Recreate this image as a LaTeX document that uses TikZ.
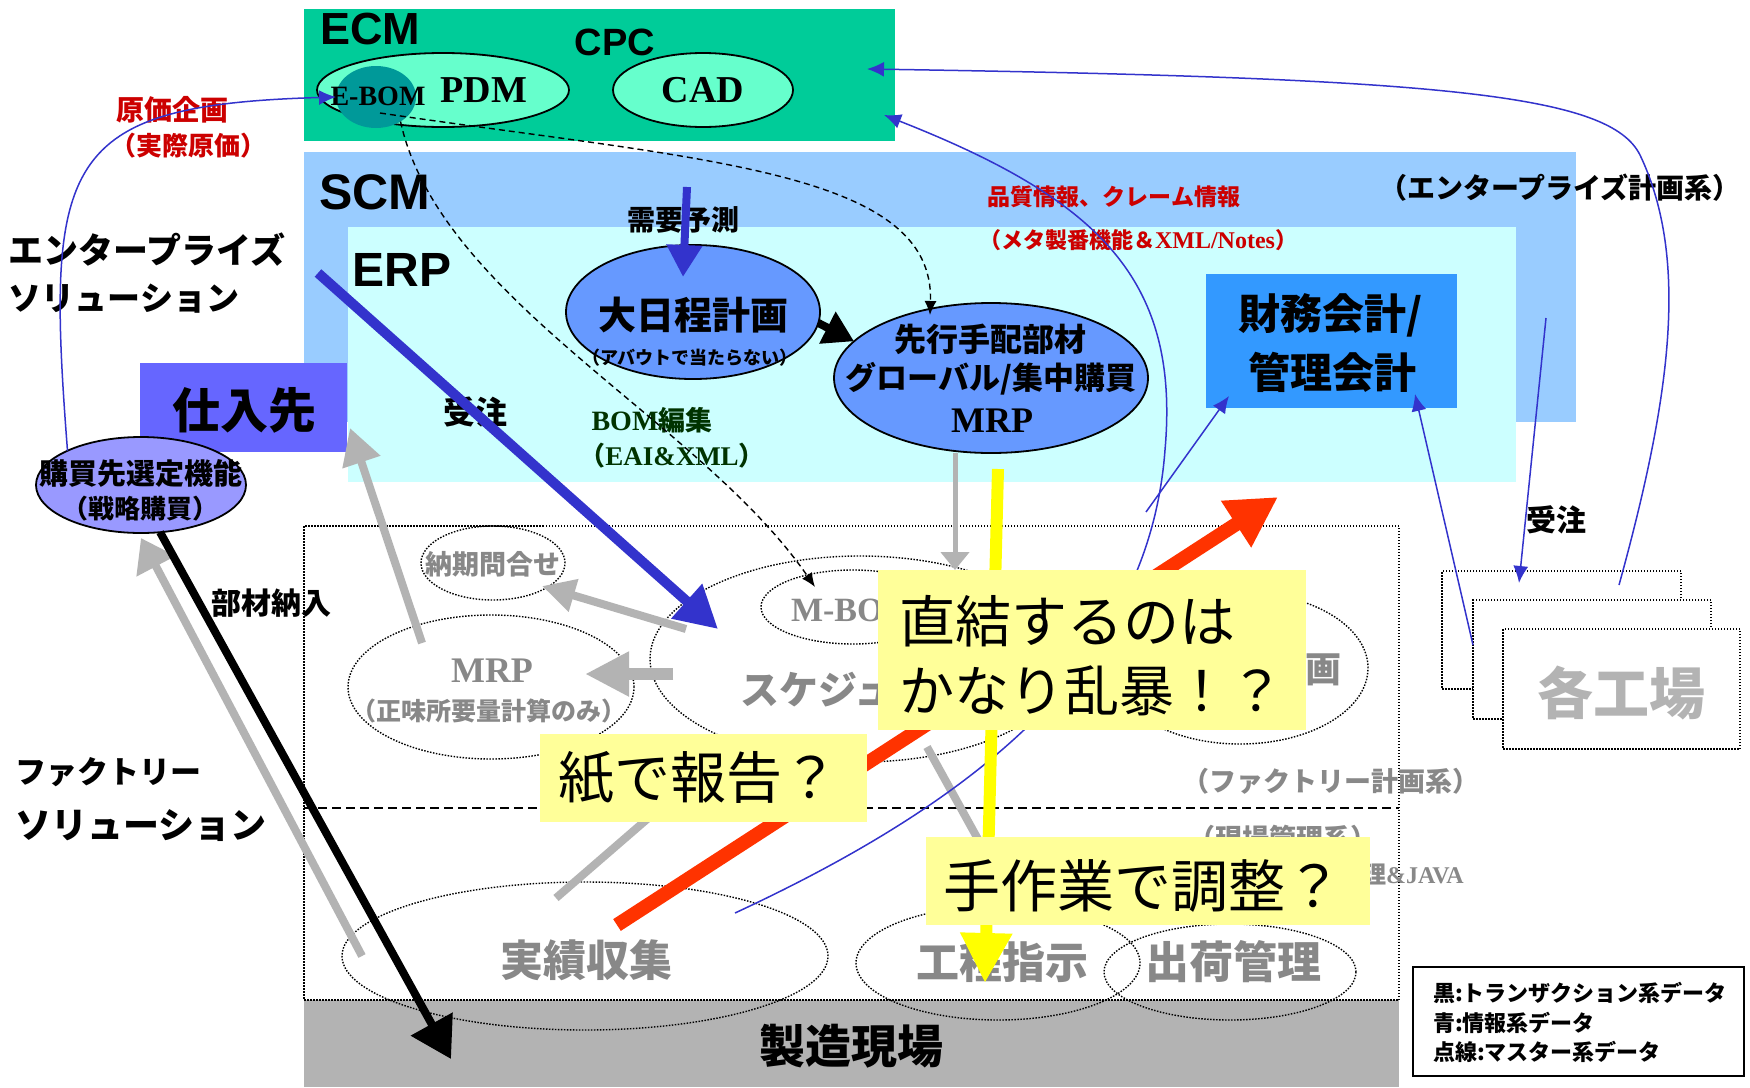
\documentclass[tikz,border=0pt]{standalone}
\usepackage{fontspec}
\setmainfont{Liberation Serif}
\newfontfamily\jp{Noto Sans CJK JP}
\newfontfamily\arl{Liberation Sans}
\newfontfamily\tms{Liberation Serif}
\usetikzlibrary{shapes.geometric,arrows.meta}
\newcommand\fsz[1]{\fontsize{#1}{#1}\selectfont}
\definecolor{ecmg}{HTML}{00CC99}
\definecolor{pdmg}{HTML}{66FFCC}
\definecolor{ebomc}{HTML}{009999}
\definecolor{scmc}{HTML}{99CCFF}
\definecolor{erpc}{HTML}{CCFFFF}
\definecolor{planc}{HTML}{6699FF}
\definecolor{zaic}{HTML}{3399FF}
\definecolor{shiic}{HTML}{6666FF}
\definecolor{kobc}{HTML}{9999FF}
\definecolor{yelc}{HTML}{FFFF99}
\definecolor{redt}{HTML}{CC0000}
\definecolor{bluea}{HTML}{3333CC}
\definecolor{graya}{HTML}{B3B3B3}
\definecolor{grayt}{HTML}{888888}
\definecolor{redarr}{HTML}{FF3300}
\definecolor{bomg}{HTML}{003300}
\definecolor{yarr}{HTML}{FFFF00}
\begin{document}
\begin{tikzpicture}[x=1pt,y=-1pt,
  rbox/.style={rectangle, inner sep=0, outer sep=0, draw=none},
  bell/.style={ellipse, inner sep=0, outer sep=0, draw=black, line width=1.8pt},
  dell/.style={ellipse, inner sep=0, outer sep=0, draw=black, line width=1.4pt, dash pattern=on 1.5pt off 1.5pt},
  dotline/.style={dash pattern=on 1.5pt off 1.5pt},
  jb/.style={font={\jp\bfseries\fsz{#1}}, inner sep=0, outer sep=0, align=center},
  jr/.style={font={\jp\fsz{#1}}, inner sep=0, outer sep=0, align=left},
  ab/.style={font={\arl\bfseries\fsz{#1}}, inner sep=0, outer sep=0},
  tb/.style={font={\tms\bfseries\fsz{#1}}, inner sep=0, outer sep=0},
  bthin/.style={draw=bluea, line width=1.5pt, -{Latex[length=17pt,width=15pt]}},
  dsh/.style={draw=black, line width=1.4pt, dash pattern=on 6pt off 4pt, -{Latex[length=14pt,width=12pt]}},
  garr/.style={draw=graya, line width=8pt}
]
\useasboundingbox (0,0) rectangle (1750,1087);
\fill[white] (0,0) rectangle (1750,1087);

% ---------- regions
\node[rbox, fill=ecmg, minimum width=591pt, minimum height=132pt] (ecm) at (599.5,75) {};
\node[rbox, fill=scmc, minimum width=1272pt, minimum height=270pt] (scm) at (940,287) {};
\node[rbox, fill=erpc, minimum width=1168pt, minimum height=255pt] (erp) at (932,354.5) {};
\node[rbox, fill=zaic, minimum width=251pt, minimum height=134pt] (zaimu) at (1331.5,341) {};
\node[rbox, fill=shiic, minimum width=207pt, minimum height=89pt] (shiire) at (243.5,407.5) {};
\node[rbox, fill=graya, minimum width=1095pt, minimum height=87pt] (genba) at (851.5,1043.5) {};
\node[rbox, draw=black, line width=1.5pt, dotline, minimum width=1095pt, minimum height=474pt] (fact) at (851.5,763) {};
\coordinate (dl) at (0,808);
\draw[black, line width=2pt, dash pattern=on 9pt off 5pt] (fact.west |- dl) -- (fact.east |- dl);

% ---------- factory ellipses
\node[dell, minimum width=144pt, minimum height=74pt] (nouki) at (493,563) {};
\node[dell, minimum width=286pt, minimum height=144pt] (mrpf) at (491,687) {};
\node[dell, minimum width=420pt, minimum height=206pt] (sched) at (860,659) {};
\node[dell, minimum width=184pt, minimum height=74pt] (mbom) at (853,607) {};
\node[dell, minimum width=256pt, minimum height=152pt] (keik) at (1240,668) {};
\node[dell, minimum width=486pt, minimum height=148pt] (jiss) at (585,956) {};
\node[dell, minimum width=284pt, minimum height=114pt] (kotei) at (998,963) {};
\node[dell, minimum width=252pt, minimum height=96pt] (shukka) at (1230,972) {};

% ---------- top ellipses
\node[bell, fill=pdmg, minimum width=252pt, minimum height=74pt] (pdm) at (443,90) {};
\node[ellipse, fill=ebomc, inner sep=0, outer sep=0, minimum width=80pt, minimum height=62pt] (ebom) at (376,97) {};
\node[bell, fill=pdmg, minimum width=180pt, minimum height=74pt] (cad) at (703,90) {};
\node[bell, fill=planc, minimum width=254pt, minimum height=134pt] (daini) at (693,312) {};
\node[bell, fill=planc, minimum width=314pt, minimum height=150pt] (senko) at (991,378) {};

% ---------- texts
\node[ab=45] (tecm) at (370,29) {ECM};
\node[ab=38] (tcpc) at (615,42) {CPC};
\node[tb=28] (tebom) at (378,96) {E-BOM};
\node[tb=38] (tpdm) at (484,90) {PDM};
\node[tb=38] (tcad) at (703,90) {CAD};
\node[ab=50] (tscm) at (375,192) {SCM};
\node[ab=48] (terp) at (402,270) {ERP};
\node[jb=28, text=redt] (tgenka1) at (172,110) {原価企画};
\node[jb=26, text=redt] (tgenka2) at (188,146) {（実際原価）};
\node[jb=35, anchor=west] (tent1) at (9,250) {エンタープライズ};
\node[jb=33, anchor=west] (tent2) at (9,299) {ソリューション};
\node[jb=31, anchor=west] (tfac1) at (15,772) {ファクトリー};
\node[jb=36, anchor=west] (tfac2) at (15,826) {ソリューション};
\node[jb=28] (tjuyo) at (683,220) {需要予測};
\node[jb=38] (tdaini) at (693,315) {大日程計画};
\node[jb=18] (tabout) at (690,358) {（アバウトで当たらない）};
\node[jb=32] (tsenko1) at (990,339) {先行手配部材};
\node[jb=31] (tsenko2) at (991,379) {グローバル/集中購買};
\node[tb=36] (tsenko3) at (992,421) {MRP};
\node[jb=42] (tzai1) at (1331,315) {財務会計/};
\node[jb=42] (tzai2) at (1332,372) {管理会計};
\node[jb=48] (tshiire) at (244,410) {仕入先};
\node[jb=32] (tjuchu) at (475,412) {受注};
\node[inner sep=0, text=bomg] (tbom1) at (652,420) {{\tms\bfseries\fsz{28}BOM}{\jp\bfseries\fsz{27}編集}};
\node[inner sep=0, text=bomg] (tbom2) at (672,456) {{\jp\bfseries\fsz{26}（}{\tms\bfseries\fsz{27}EAI\&XML}{\jp\bfseries\fsz{26}）}};
\node[jb=23, text=redt] (thin1) at (1114,197) {品質情報、クレーム情報};
\node[inner sep=0, text=redt] (thin2) at (1138,240) {{\jp\bfseries\fsz{22}（メタ製番機能＆}{\tms\bfseries\fsz{24}XML/Notes}{\jp\bfseries\fsz{22}）}};
\node[jb=28] (tentk) at (1560,188) {（エンタープライズ計画系）};
\node[jb=30] (tjuchu2) at (1556,520) {受注};
\node[jb=30] (tbuzai) at (271,603) {部材納入};
\node[jb=27, text=grayt] (tnouki) at (493,564) {納期問合せ};
\node[tb=36, text=grayt] (tmrpf) at (492,671) {MRP};
\node[jb=25, text=grayt] (tshomi) at (489,711) {（正味所要量計算のみ）};
\node[tb=34, text=grayt, anchor=west] (tmbom) at (791,610) {M-BO};
\node[jb=39, text=grayt, anchor=west] (tsched) at (740,690) {スケジュ};
\node[jb=36, text=grayt] (tkeik) at (1323,670) {画};
\node[jb=27, text=grayt] (tfplan) at (1331,781) {（ファクトリー計画系）};
\node[jb=27, text=grayt] (tgenkan) at (1283,838) {（現場管理系）};
\node[inner sep=0, text=grayt, anchor=east] (tjava) at (1464,874) {{\jp\bfseries\fsz{24}理}{\tms\bfseries\fsz{24}\&JAVA}};
\node[jb=43, text=grayt] (tjiss) at (586,960) {実績収集};
\node[jb=43, text=grayt] (tkotei) at (1002,962) {工程指示};
\node[jb=44, text=grayt] (tshukka) at (1233,962) {出荷管理};
\node[jb=46] (tgenba) at (851,1046) {製造現場};

% ---------- factory stack
\node[rbox, draw=black, line width=1.5pt, dotline, fill=white, minimum width=239pt, minimum height=118pt] (fa) at (1561.5,630) {};
\node[rbox, draw=black, line width=1.5pt, dotline, fill=white, minimum width=238pt, minimum height=119pt] (fb) at (1592,659.5) {};
\node[rbox, draw=black, line width=1.5pt, dotline, fill=white, minimum width=237pt, minimum height=120pt] (fc) at (1621.5,689) {};
\node[jb=56, text=graya] (tfc) at (1621,693) {各工場};

% ---------- gray arrows
\coordinate (ga1s) at (686,629); \coordinate (ga1e) at (542,586);
\coordinate (ga2s) at (673,674); \coordinate (ga2e) at (585,674);
\coordinate (ga3s) at (422,643); \coordinate (ga3e) at (350,428);
\coordinate (ga4s) at (362,956); \coordinate (ga4e) at (141,538);
\coordinate (ga5s) at (556,898); \coordinate (ga5e) at (690,782);
\coordinate (ga6s) at (927,747); \coordinate (ga6e) at (995,870);
\coordinate (ga7e) at (955,570);
\draw[garr, -{Triangle[length=33pt,width=32pt]}] (ga1s) -- (ga1e);
\draw[garr, line width=12pt, -{Triangle[length=44pt,width=42pt]}] (ga2s) -- (ga2e);
\draw[garr, -{Triangle[length=36pt,width=38pt]}] (ga3s) -- (ga3e);
\draw[garr, -{Triangle[length=32pt,width=42pt]}] (ga4s) -- (ga4e);
\draw[garr] (ga5s) -- (ga5e);
\draw[garr] (ga6s) -- (ga6e);
\draw[garr, line width=5pt, -{Triangle[length=18pt,width=28pt]}] (senko.south -| ga7e) -- (ga7e);

% ---------- purchase ellipse
\node[bell, fill=kobc, minimum width=210pt, minimum height=96pt] (kobai) at (141,485) {};
\node[jb=29] (tkob1) at (141,473) {購買先選定機能};
\node[jb=26] (tkob2) at (140,509) {（戦略購買）};

% ---------- dashed master data arrows
\coordinate (dm1e) at (815,587);
\coordinate (dm2s) at (380,113); \coordinate (dm2e) at (930,315);
\draw[dsh] (ebom.-45) .. controls (440,300) and (700,420) .. (dm1e);
\draw[dsh] (dm2s) .. controls (700,160) and (935,170) .. (dm2e);

% ---------- thin blue arrows
\coordinate (ecmin1) at (867,69);
\coordinate (ecmin2) at (884,115);
\coordinate (fstart) at (1619,585);
\coordinate (qstart) at (735,913);
\coordinate (qmid) at (1165,450);
\coordinate (fmid) at (1640,155);
\coordinate (z1s) at (1146,512); \coordinate (z1e) at (1229,396);
\coordinate (z2s) at (1473,645); \coordinate (z2e) at (1415,394);
\coordinate (j2s) at (1546,318); \coordinate (j2e) at (1519,583);
\draw[bthin] (kobai.155) .. controls (45,160) and (60,105) .. (ebom.west);
\draw[bthin] (fstart) .. controls (1670,400) and (1690,260) .. (fmid) .. controls (1610,95) and (1450,78) .. (ecmin1);
\draw[bthin] (qstart) .. controls (1000,790) and (1150,650) .. (qmid) .. controls (1180,280) and (1100,200) .. (ecmin2);
\draw[bthin] (z1s) -- (z1e);
\draw[bthin] (z2s) -- (z2e);
\draw[bthin] (j2s) -- (j2e);

% ---------- thick arrows
\coordinate (juS) at (318,273); \coordinate (juE) at (718,629);
\coordinate (jyS) at (687,187); \coordinate (jyE) at (683,277);
\coordinate (bzE) at (451,1059);
\coordinate (rdS) at (617,925); \coordinate (rdE) at (1278,497);
\coordinate (ylS) at (998,469); \coordinate (ylE) at (985,983);
\draw[draw=bluea, line width=10pt, -{Triangle[length=42pt,width=44pt]}] (juS) -- (juE);
\draw[draw=bluea, line width=8pt, -{Triangle[length=32pt,width=34pt]}] (jyS) -- (jyE);
\draw[draw=black, line width=8pt, -{Triangle[length=30pt,width=34pt]}] (daini.-5) -- (senko.165);
\draw[draw=black, line width=8pt, -{Triangle[length=40pt,width=46pt]}] (kobai.-68) -- (bzE);
\draw[draw=redarr, line width=14pt, -{Triangle[length=50pt,width=52pt]}] (rdS) -- (rdE);
\draw[draw=yarr, line width=12pt, -{Triangle[length=50pt,width=49pt]}] (ylS) -- (ylE);

% ---------- yellow comments
\node[rbox, fill=yelc, minimum width=428pt, minimum height=160pt] (y1) at (1092,650) {};
\node[jr=56, anchor=west] (ty1a) at (899,621) {直結するのは};
\node[jr=55, anchor=west] (ty1b) at (899,691) {かなり乱暴！？};
\node[rbox, fill=yelc, minimum width=327pt, minimum height=88pt] (y2) at (703.5,778) {};
\node[jr=56, anchor=west] (ty2) at (558,778) {紙で報告？};
\node[rbox, fill=yelc, minimum width=444pt, minimum height=88pt] (y3) at (1148,881) {};
\node[jr=57, anchor=west] (ty3) at (943,886) {手作業で調整？};

% ---------- legend
\node[rbox, draw=black, line width=2pt, fill=white, minimum width=331pt, minimum height=109pt] (leg) at (1578.5,1021.5) {};
\node[jb=22, anchor=west] (tl1) at (1433,993) {黒:トランザクション系データ};
\node[jb=22, anchor=west] (tl2) at (1433,1023) {青:情報系データ};
\node[jb=22, anchor=west] (tl3) at (1433,1052) {点線:マスター系データ};
\end{tikzpicture}
\end{document}
